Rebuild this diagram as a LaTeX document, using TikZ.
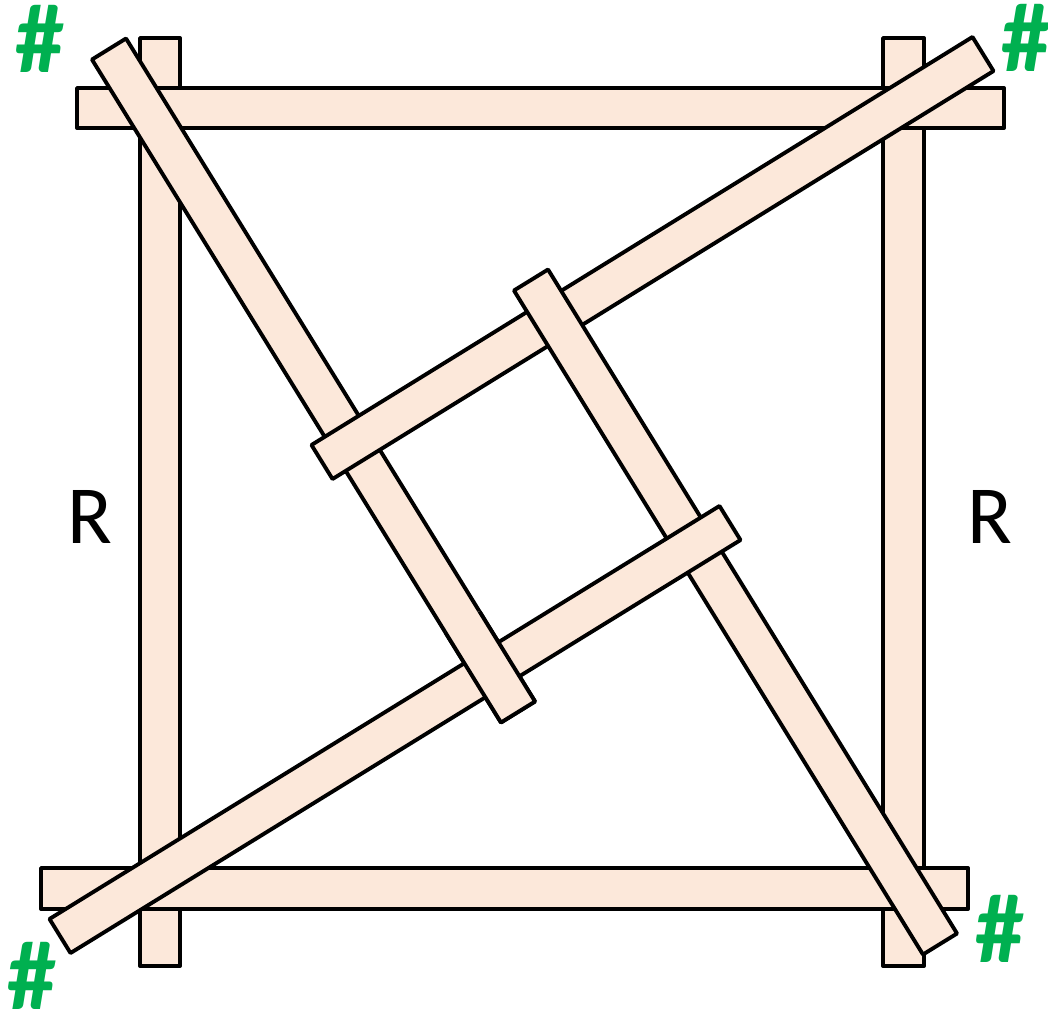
\documentclass[tikz,border=0pt]{standalone}
\usepackage{fontspec}
\setmainfont{Carlito}
\usepackage{xcolor}
\usepackage{tikz}
\usetikzlibrary{calc}

\definecolor{plankfill}{HTML}{FCE8DA}
\definecolor{markgreen}{HTML}{00B050}

%% one plank between two end centres
\newcommand{\plank}[2]{%
  \draw[plank] ($(#1)!2mm!90:(#2)$) -- ($(#1)!2mm!-90:(#2)$) -- ($(#2)!2mm!90:(#1)$) -- ($(#2)!2mm!-90:(#1)$) -- cycle;}

\begin{document}
\begin{tikzpicture}[
  x=0.01cm, y=-0.01cm,
  plank/.style={draw=black, fill=plankfill, line width=1.1pt, line join=round},
  hashmark/.style={text=markgreen, inner sep=0pt, font=\fontsize{28}{28}\selectfont\bfseries},
  side/.style={inner sep=0pt, font=\fontsize{23.5}{24}\selectfont}
]
\useasboundingbox (0,0) rectangle (1048,1012);

%% Outer frame
\draw[plank] (140,38) rectangle (180,966);
\draw[plank] (883,38) rectangle (924,966);
\draw[plank] (77,88) rectangle (1004,128);
\draw[plank] (41,868) rectangle (968,909);

%% Ends of the diagonal planks
\coordinate (a1) at (109,49);  \coordinate (a2) at (518,712);
\coordinate (b1) at (531,280); \coordinate (b2) at (940,944);
\coordinate (c1) at (983,54);  \coordinate (c2) at (322,462);
\coordinate (d1) at (730,523); \coordinate (d2) at (60,936);

%% Diagonal planks (each lies on the next one)
\plank{a1}{a2}
\plank{c1}{c2}
\plank{b1}{b2}
\plank{d1}{d2}
\begin{scope}
  \clip (492,670) circle [radius=60];
  \plank{a1}{a2}
\end{scope}

%% Labels
\node[side] (rLeft) at (90,517) {R};
\node[side] (rRight) at (990,517) {R};
\node[hashmark] (hashTL) at (40,39) {\#};
\node[hashmark] (hashTR) at (1026,38) {\#};
\node[hashmark] (hashBL) at (32,976) {\#};
\node[hashmark] (hashBR) at (1000,929) {\#};

\end{tikzpicture}
\end{document}
